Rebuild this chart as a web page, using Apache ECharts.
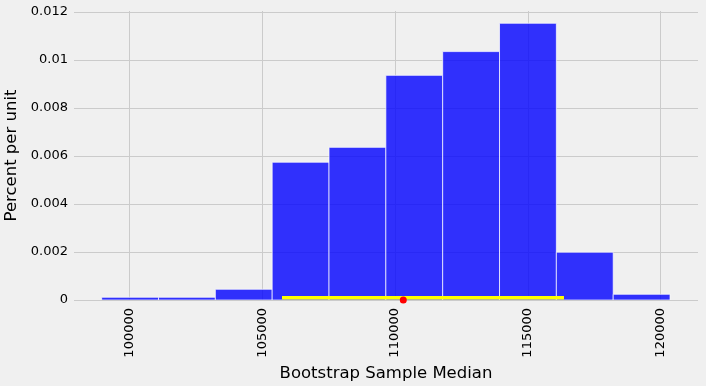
<!DOCTYPE html>
<html>
<head>
<meta charset="utf-8">
<script src="https://cdn.jsdelivr.net/npm/echarts@6/dist/echarts.min.js"></script>
<style>
html,body{margin:0;padding:0;background:#f0f0f0;}
#chart{width:706px;height:386px;}
</style>
</head>
<body>
<div id="chart"></div>
<script>
// Histogram bin edges (Bootstrap Sample Median)
const binEdges = [98961, 101100, 103239, 105378, 107517, 109656, 111795, 113934, 116073, 118212, 120351];
// Heights in percent per unit
const binHeights = [0.000113, 0.000113, 0.000446, 0.00574, 0.00636, 0.00936, 0.01035, 0.01153, 0.00199, 0.000237];
// Confidence interval end points (yellow line)
const ciEnds = [105747, 116360];
// Population median (red dot)
const popMedian = 110312;
// Tick labels
const xTicks = [100000, 105000, 110000, 115000, 120000];
const yTicks = [0, 0.002, 0.004, 0.006, 0.008, 0.01, 0.012];

const FONT = 'DejaVu Sans';
const chart = echarts.init(document.getElementById('chart'), null, {renderer: 'canvas'});

const histData = binHeights.map((h, i) => [binEdges[i], binEdges[i + 1], h]);

chart.setOption({
  backgroundColor: '#f0f0f0',
  animation: false,
  grid: {left: 74, right: 8, top: 11, bottom: 86, containLabel: false, outerBoundsMode: 'none'},
  xAxis: {
    type: 'value',
    min: 97919,
    max: 121404,
    name: 'Bootstrap Sample Median',
    nameLocation: 'middle',
    nameGap: 56,
    nameTextStyle: {fontFamily: FONT, fontSize: 16.5, color: '#000'},
    axisLine: {show: false},
    axisTick: {show: false, customValues: xTicks},
    axisLabel: {customValues: xTicks, rotate: 90, margin: 8, fontFamily: FONT, fontSize: 13, color: '#000',
      formatter: v => String(v)},
    splitLine: {show: true, lineStyle: {color: '#cbcbcb', width: 1}}
  },
  yAxis: {
    type: 'value',
    min: 0,
    max: 0.012042,
    name: 'Percent per unit',
    nameLocation: 'middle',
    nameRotate: 90,
    nameGap: 47,
    nameTextStyle: {fontFamily: FONT, fontSize: 16.5, color: '#000'},
    axisLine: {show: false},
    axisTick: {show: false, customValues: yTicks},
    axisLabel: {customValues: yTicks, margin: 6, fontFamily: FONT, fontSize: 13, color: '#000',
      formatter: v => String(v)},
    splitLine: {show: true, lineStyle: {color: '#cbcbcb', width: 1}}
  },
  series: [
    {
      type: 'custom',
      data: histData,
      clip: true,
      renderItem: function (params, api) {
        const p0 = api.coord([api.value(0), api.value(2)]);
        const p1 = api.coord([api.value(1), 0]);
        return {
          type: 'rect',
          shape: {x: p0[0], y: p0[1], width: p1[0] - p0[0], height: p1[1] - p0[1]},
          style: {fill: 'rgba(0,0,255,0.8)', stroke: 'rgba(255,255,255,0.7)', lineWidth: 1}
        };
      },
      z: 2
    },
    {
      type: 'custom',
      data: [[ciEnds[0], ciEnds[1]]],
      renderItem: function (params, api) {
        const a = api.coord([api.value(0), 0]);
        const b = api.coord([api.value(1), 0]);
        return {
          type: 'rect',
          shape: {x: a[0], y: a[1] - 4, width: b[0] - a[0], height: 3.5},
          style: {fill: '#ffff00'}
        };
      },
      z: 3
    },
    {
      type: 'scatter',
      data: [[popMedian, 0]],
      symbol: 'circle',
      symbolSize: 7,
      clip: false,
      itemStyle: {color: '#ff0000', opacity: 1},
      z: 4
    }
  ]
});
</script>
</body>
</html>
